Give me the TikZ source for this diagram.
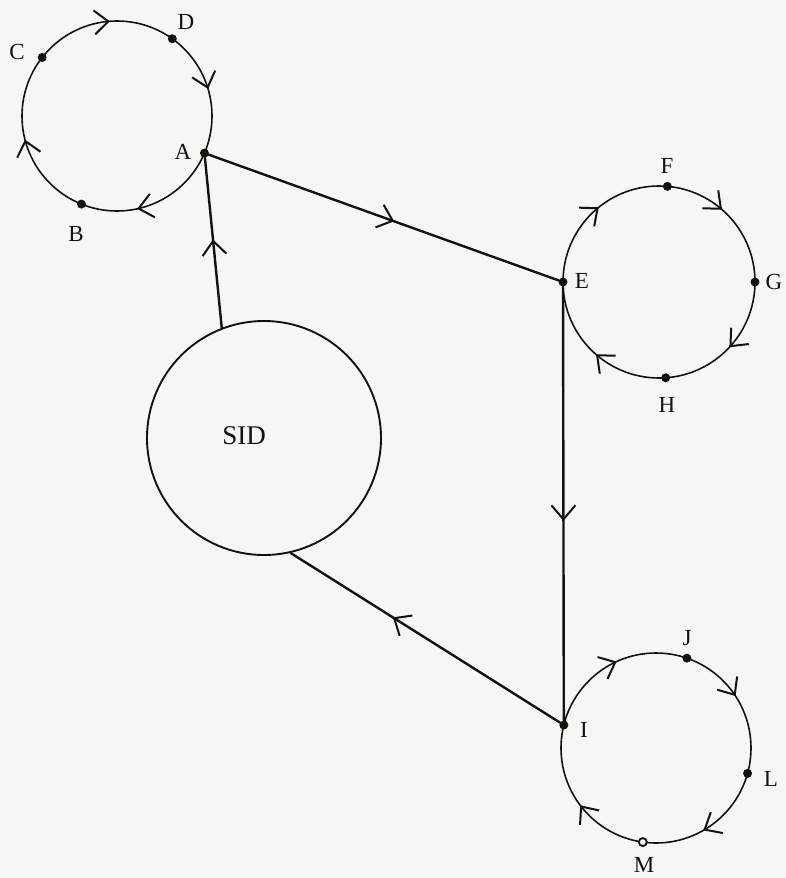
\documentclass[tikz,border=0pt]{standalone}
\usepackage{fontspec}
\setmainfont{Liberation Serif}
\usetikzlibrary{arrows.meta,decorations.markings,calc}
\definecolor{paper}{RGB}{246,246,243}
\definecolor{ink}{RGB}{18,18,18}
\tikzset{
  barb/.tip={Straight Barb[length=14pt,width=24pt,line width=2pt]},
  tickpos/.style={postaction={decorate,decoration={markings,
      mark=at position #1 with {\arrow[ink]{barb}}}}},
  orbit/.style={draw=ink,line width=1.6pt},
  link/.style={draw=ink,line width=2.4pt,line cap=round},
  dot/.style={circle,fill=ink,inner sep=0pt,minimum size=9pt},
  hollow/.style={circle,draw=ink,fill=paper,line width=1.8pt,inner sep=0pt,minimum size=8pt},
  lbl/.style={text=ink,inner sep=0pt,font=\fontsize{23}{25}\selectfont},
}
\begin{document}
\begin{tikzpicture}[x=1pt,y=-1pt]
  % paper
  \fill[paper] (0,0) rectangle (785,878);
  \useasboundingbox (0,0) rectangle (785,878);

  % centres of the three small cycles
  \coordinate (c1) at (117,116);
  \coordinate (c2) at (659,282);
  \coordinate (c3) at (656,748);

  % cycle A-B-C-D (clockwise)
  \draw[orbit,tickpos=0.216,tickpos=0.46,tickpos=0.738,tickpos=0.954] (c1) circle[radius=95];
  \node[dot] (A) at ($(c1)+(23:95)$) {};
  \node[dot] (B) at ($(c1)+(112:95)$) {};
  \node[dot] (C) at ($(c1)+(218:95)$) {};
  \node[dot] (D) at ($(c1)+(305.6:95)$) {};
  \node[lbl] (lA) at (183,152) {A};
  \node[lbl] (lB) at (76,234) {B};
  \node[lbl] (lC) at (17,52) {C};
  \node[lbl] (lD) at (186,22) {D};

  % cycle E-F-G-H (clockwise)
  \draw[orbit,tickpos=0.119,tickpos=0.364,tickpos=0.642,tickpos=0.864] (c2) circle[radius=96];
  \node[dot] (E) at ($(c2)+(180:96)$) {};
  \node[dot] (F) at ($(c2)+(275:96)$) {};
  \node[dot] (G) at ($(c2)+(0:96)$) {};
  \node[dot] (H) at ($(c2)+(86:96)$) {};
  \node[lbl] (lE) at (582,281) {E};
  \node[lbl] (lF) at (667,166) {F};
  \node[lbl] (lG) at (774,282) {G};
  \node[lbl] (lH) at (667,405) {H};

  % cycle I-J-L-M (clockwise)
  \draw[orbit,tickpos=0.167,tickpos=0.397,tickpos=0.682,tickpos=0.908] (c3) circle[radius=95];
  \node[dot] (I) at ($(c3)+(194:95)$) {};
  \node[dot] (J) at ($(c3)+(289:95)$) {};
  \node[dot] (L) at ($(c3)+(15.5:95)$) {};
  \node[hollow] (M) at ($(c3)+(98:95)$) {};
  \node[lbl] (lI) at (584,730) {I};
  \node[lbl] (lJ) at (687,638) {J};
  \node[lbl] (lL) at (771,779) {L};
  \node[lbl] (lM) at (644,865) {M};

  % central system
  \node[circle,draw=ink,line width=1.9pt,inner sep=0pt,minimum size=234pt] (SID) at (264,438) {};
  \node[text=ink,inner sep=0pt,font=\fontsize{27}{29}\selectfont] (lSID) at (244,436) {SID};

  % connections between the cycles
  \draw[link,tickpos=0.53] (A) -- (E);
  \draw[link,tickpos=0.54] (E) -- (I);
  \draw[link,tickpos=0.62] (I) -- (SID.283);
  \draw[link,tickpos=0.52] (SID.111.5) -- (A);
\end{tikzpicture}
\end{document}
